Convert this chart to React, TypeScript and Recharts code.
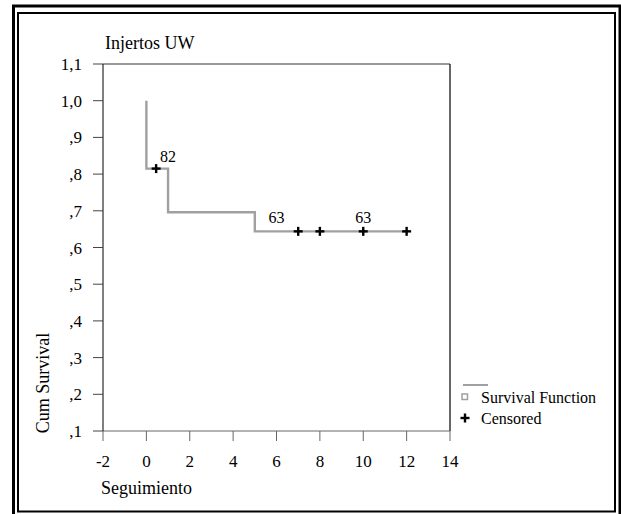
import { ComposedChart, Line, Scatter, XAxis, YAxis, ReferenceLine } from 'recharts'

// Kaplan-Meier steps (time, cumulative survival)
const survTime = [0, 0, 1, 5, 12]
const survProb = [1.0, 0.815, 0.696, 0.644, 0.644]

// censored cases
const censTime = [0.45, 7, 8, 10, 12]
const censProb = [0.815, 0.644, 0.644, 0.644, 0.644]

// annotations printed on the curve
const noteTime = [1.0, 6.0, 10.0]
const noteProb = [0.848, 0.681, 0.683]
const noteText = ['82', '63', '63']

const xTicks = [-2, 0, 2, 4, 6, 8, 10, 12, 14]
const yTicks = [0.1, 0.2, 0.3, 0.4, 0.5, 0.6, 0.7, 0.8, 0.9, 1.0, 1.1]

const survData = survTime.map((t, i) => ({ t, p: survProb[i] }))
const censData = censTime.map((t, i) => ({ t, p: censProb[i] }))
const noteData = noteTime.map((t, i) => ({ t, p: noteProb[i], label: noteText[i] }))

const FONT = '"Liberation Serif", "Times New Roman", serif'

const fmtY = (v: number) => v.toFixed(1).replace('.', ',').replace(/^0/, '')

const Plus = (props: any) => {
  const { cx, cy } = props
  return (
    <g stroke="#000" strokeWidth={2.4}>
      <line x1={cx - 4.5} y1={cy} x2={cx + 4.5} y2={cy} />
      <line x1={cx} y1={cy - 4.5} x2={cx} y2={cy + 4.5} />
    </g>
  )
}

const Note = (props: any) => (
  <text
    x={props.cx}
    y={props.cy}
    textAnchor="middle"
    dominantBaseline="central"
    fontSize={16}
    fontFamily={FONT}
    fill="#000"
  >
    {props.payload.label}
  </text>
)

export default function App() {
  return (
    <div style={{ position: 'fixed', left: 0, top: 0, width: 621, height: 514, background: '#fff', overflow: 'hidden', fontFamily: FONT }}>
      <svg width={621} height={514} style={{ position: 'absolute', left: 0, top: 0 }}>
        <rect x={13.5} y={6} width={606.5} height={520} fill="none" stroke="#000" strokeWidth={3} />
        <rect x={18} y={13} width={597} height={498.5} fill="none" stroke="#000" strokeWidth={2} />
      </svg>

      <div style={{ position: 'absolute', left: 0, top: 0 }}>
        <ComposedChart width={621} height={514} margin={{ top: 64, right: 171, bottom: 53, left: 43 }}>
          <XAxis
            type="number"
            dataKey="t"
            domain={[-2, 14]}
            ticks={xTicks}
            allowDataOverflow
            height={30}
            tickSize={10}
            tickMargin={14}
            stroke="#666"
            tick={{ fill: '#000', fontSize: 17, fontFamily: FONT }}
          />
          <YAxis
            type="number"
            dataKey="p"
            domain={[0.1, 1.1]}
            ticks={yTicks}
            allowDataOverflow
            width={60}
            tickSize={10}
            tickMargin={11}
            tickFormatter={fmtY}
            axisLine={{ stroke: '#000' }}
            tickLine={{ stroke: '#444' }}
            tick={{ fill: '#000', fontSize: 17, fontFamily: FONT }}
          />
          <ReferenceLine y={1.1} stroke="#777" strokeWidth={1.5} />
          <ReferenceLine x={14} stroke="#000" strokeWidth={1.2} />
          <Line
            data={survData}
            dataKey="p"
            type="stepAfter"
            stroke="#a0a0a0"
            strokeWidth={2.4}
            dot={false}
            isAnimationActive={false}
          />
          <Scatter data={censData} dataKey="p" shape={Plus} isAnimationActive={false} />
          <Scatter data={noteData} dataKey="p" shape={Note} isAnimationActive={false} />
        </ComposedChart>
      </div>

      <div style={{ position: 'absolute', left: 105, top: 33, fontSize: 18, lineHeight: '20px', whiteSpace: 'nowrap' }}>
        Injertos UW
      </div>
      <div style={{ position: 'absolute', left: 101, top: 478, fontSize: 18, lineHeight: '20px', whiteSpace: 'nowrap' }}>
        Seguimiento
      </div>
      <div
        style={{
          position: 'absolute',
          left: 43,
          top: 383,
          fontSize: 18,
          lineHeight: '20px',
          whiteSpace: 'nowrap',
          transform: 'translate(-50%, -50%) rotate(-90deg)',
        }}
      >
        Cum Survival
      </div>

      <svg width={621} height={514} style={{ position: 'absolute', left: 0, top: 0, pointerEvents: 'none' }}>
        <line x1={463} y1={385} x2={488} y2={385} stroke="#a0a0a0" strokeWidth={2} />
        <rect x={462} y={394} width={5.5} height={5.5} fill="none" stroke="#a0a0a0" strokeWidth={1.5} />
        <text x={481} y={397} dominantBaseline="central" fontSize={16} fontFamily={FONT} fill="#000">
          Survival Function
        </text>
        <Plus cx={465} cy={418} />
        <text x={481} y={418} dominantBaseline="central" fontSize={16} fontFamily={FONT} fill="#000">
          Censored
        </text>
      </svg>
    </div>
  )
}
